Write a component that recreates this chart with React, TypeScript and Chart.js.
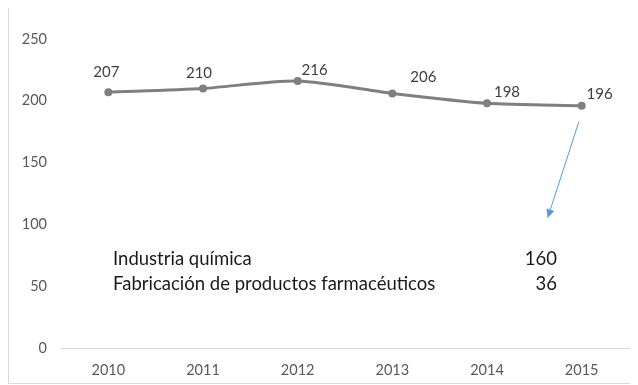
import React, { useEffect, useRef } from "react";
import { Chart, registerables } from "chart.js";

Chart.register(...registerables);

const years = ["2010", "2011", "2012", "2013", "2014", "2015"];
const employment = [207, 210, 216, 206, 198, 196];
const yTicks = [0, 50, 100, 150, 200, 250];

const breakdownLabels = ["Industria química", "Fabricación de productos farmacéuticos"];
const breakdownValues = [160, 36];

// styling: data label offsets (px) relative to each point
const labelOffsets: [number, number][] = [
  [-2, -20],
  [-4, -15],
  [17, -11],
  [31, -16],
  [20, -11],
  [18, -12],
];

// annotation anchors in data space (category index, value)
const arrowFrom = { x: 4.97, y: 183 };
const arrowTo = { x: 4.64, y: 105 };
const textLeftIndex = 0.05;
const textRightIndex = 4.74;
const textRowValues = [72, 52];

const FONT = "Lato, 'Open Sans', sans-serif";

const overlayPlugin = {
  id: "overlay",
  afterDatasetsDraw(chart: any) {
    const ctx = chart.ctx;
    const xs = chart.scales.x;
    const ys = chart.scales.y;
    const meta = chart.getDatasetMeta(0);
    ctx.save();
    // data labels
    ctx.font = `15px ${FONT}`;
    ctx.fillStyle = "#404040";
    ctx.textAlign = "center";
    ctx.textBaseline = "middle";
    meta.data.forEach((pt: any, i: number) => {
      const [dx, dy] = labelOffsets[i];
      ctx.fillText(String(employment[i]), pt.x + dx, pt.y + dy);
    });
    // breakdown text
    ctx.font = `18.5px ${FONT}`;
    ctx.fillStyle = "#1a1a1a";
    breakdownLabels.forEach((lbl, i) => {
      const y = ys.getPixelForValue(textRowValues[i]);
      ctx.textAlign = "left";
      ctx.fillText(lbl, xs.getPixelForValue(textLeftIndex), y);
      ctx.textAlign = "right";
      ctx.fillText(String(breakdownValues[i]), xs.getPixelForValue(textRightIndex), y);
    });
    // arrow
    const x1 = xs.getPixelForValue(arrowFrom.x);
    const y1 = ys.getPixelForValue(arrowFrom.y);
    const x2 = xs.getPixelForValue(arrowTo.x);
    const y2 = ys.getPixelForValue(arrowTo.y);
    const ang = Math.atan2(y2 - y1, x2 - x1);
    const headLen = 9;
    const headW = 4;
    ctx.strokeStyle = "#5B9BD5";
    ctx.fillStyle = "#5B9BD5";
    ctx.lineWidth = 1;
    ctx.beginPath();
    ctx.moveTo(x1, y1);
    ctx.lineTo(x2 - Math.cos(ang) * headLen * 0.8, y2 - Math.sin(ang) * headLen * 0.8);
    ctx.stroke();
    ctx.beginPath();
    ctx.moveTo(x2, y2);
    const bx = x2 - Math.cos(ang) * headLen;
    const by = y2 - Math.sin(ang) * headLen;
    ctx.lineTo(bx + Math.sin(ang) * headW, by - Math.cos(ang) * headW);
    ctx.lineTo(bx - Math.sin(ang) * headW, by + Math.cos(ang) * headW);
    ctx.closePath();
    ctx.fill();
    ctx.restore();
  },
};

export default function App() {
  const ref = useRef<HTMLCanvasElement>(null);
  useEffect(() => {
    if (!ref.current) return;
    const chart = new Chart(ref.current, {
      type: "line",
      data: {
        labels: years,
        datasets: [
          {
            data: employment,
            borderColor: "#7f7f7f",
            backgroundColor: "#7f7f7f",
            borderWidth: 3,
            pointRadius: 4,
            pointBackgroundColor: "#7f7f7f",
            pointBorderWidth: 0,
            tension: 0.25,
          },
        ],
      },
      options: {
        animation: false,
        responsive: false,
        events: [],
        layout: { padding: { top: 31, right: 7, left: 0, bottom: 0 } },
        plugins: { legend: { display: false }, tooltip: { enabled: false } },
        scales: {
          x: {
            offset: true,
            grid: { display: false, drawTicks: false },
            border: { display: true, color: "#d9d9d9", width: 1 },
            ticks: { color: "#595959", font: { family: FONT, size: 14.5 }, padding: 14, maxRotation: 0 },
            afterFit(scale: any) {
              scale.height = 35;
            },
          },
          y: {
            min: 0,
            max: 250,
            afterBuildTicks(scale: any) {
              scale.ticks = yTicks.map((v) => ({ value: v }));
            },
            grid: { display: false, drawTicks: false },
            border: { display: false },
            ticks: { color: "#595959", font: { family: FONT, size: 14.5 }, padding: 14 },
            afterFit(scale: any) {
              scale.width = 52;
            },
          },
        },
      },
      plugins: [overlayPlugin],
    });
    return () => chart.destroy();
  }, []);
  return (
    <div
      style={{
        width: 629,
        height: 377,
        marginTop: -1,
        border: "1px solid #d9d9d9",
        boxSizing: "border-box",
        background: "#fff",
      }}
    >
      <canvas ref={ref} width={627} height={375} style={{ display: "block" }} />
    </div>
  );
}
